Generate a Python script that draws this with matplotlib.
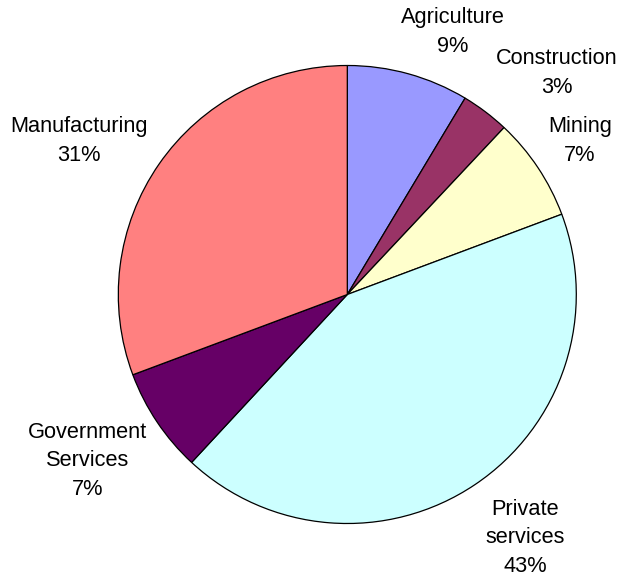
import matplotlib
matplotlib.use("Agg")
import matplotlib.pyplot as plt

categories = ["Agriculture", "Construction", "Mining", "Private\nservices",
              "Government\nServices", "Manufacturing"]
shares = [8.6, 3.4, 7.3, 42.6, 7.4, 30.7]
colors = ["#9999FF", "#993366", "#FFFFCC", "#CCFFFF", "#660066", "#FF8080"]
# label anchor positions (in units of pie radius)
label_pos = [(0.459, 1.146), (0.916, 0.967), (1.016, 0.670), (0.776, -1.063),
             (-1.134, -0.727), (-1.172, 0.670)]

plt.rcParams['font.family'] = ['Liberation Sans', 'DejaVu Sans']

W, H = 623, 581
fig = plt.figure(figsize=(W / 100, H / 100), dpi=100)
ax = fig.add_axes([0, 0, 1, 1])
cx, cy, R = 347.3, 294.5, 229.0

ax.pie(shares, colors=colors, startangle=90, counterclock=False, radius=1.0,
       wedgeprops=dict(edgecolor="black", linewidth=0.9))
ax.set_xlim(-cx / R, (W - cx) / R)
ax.set_ylim(-(H - cy) / R, cy / R)
ax.set_aspect("equal")
ax.axis("off")

for name, val, (x, y) in zip(categories, shares, label_pos):
    ax.text(x, y, f"{name}\n{round(val):d}%", ha="center", va="center",
            fontsize=15.7, linespacing=1.45, color="black")

fig.savefig("out.png", dpi=100)
